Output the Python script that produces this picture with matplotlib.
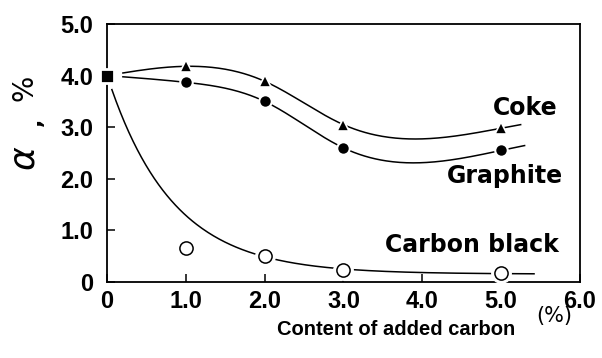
import numpy as np
import matplotlib
matplotlib.use("Agg")
import matplotlib.pyplot as plt

# alpha (%) vs. content of added carbon (%)
base_x = [0.0]
base_y = [4.0]

carbon_x = [1.0, 2.0, 3.0, 5.0]
coke_y = [4.18, 3.89, 3.05, 2.98]
graphite_y = [3.87, 3.50, 2.60, 2.55]
black_y = [0.66, 0.50, 0.23, 0.18]

x_ticks = [0, 1, 2, 3, 4, 5, 6]
x_tick_labels = ["0", "1.0", "2.0", "3.0", "4.0", "5.0", "6.0"]
y_ticks = [0, 1, 2, 3, 4, 5]
y_tick_labels = ["0", "1.0", "2.0", "3.0", "4.0", "5.0"]

tick_font = dict(family=["Liberation Sans Narrow", "Liberation Sans"], weight="bold", size=17)
label_font = dict(family=["DejaVu Sans"], weight="bold", size=17)


def smooth_curve(y, x0, x1):
    # natural cubic spline through the base point and the measured points
    x = np.array(base_x + carbon_x)
    y = np.array(base_y + y)
    h = np.diff(x)
    m = len(x)
    A = np.zeros((m, m))
    r = np.zeros(m)
    A[0, 0] = A[-1, -1] = 1.0
    for i in range(1, m - 1):
        A[i, i - 1] = h[i - 1]
        A[i, i] = 2 * (h[i - 1] + h[i])
        A[i, i + 1] = h[i]
        r[i] = 3 * ((y[i + 1] - y[i]) / h[i] - (y[i] - y[i - 1]) / h[i - 1])
    c = np.linalg.solve(A, r)
    b = (y[1:] - y[:-1]) / h - h * (2 * c[:-1] + c[1:]) / 3
    d = (c[1:] - c[:-1]) / (3 * h)
    xx = np.linspace(x0, x1, 300)
    i = np.clip(np.searchsorted(x, xx) - 1, 0, m - 2)
    t = xx - x[i]
    return xx, y[i] + b[i] * t + c[i] * t ** 2 + d[i] * t ** 3


def decay_curve(y, x0, x1):
    # y = a*exp(-k x) + c, fitted through the base value and the 2-5 % points
    xs = np.array(base_x + carbon_x[1:])
    ys = np.array(base_y + y[1:])
    best = None
    for k in np.linspace(0.3, 3.0, 271):
        A = np.column_stack([np.exp(-k * xs), np.ones_like(xs)])
        coef = np.linalg.lstsq(A, ys, rcond=None)[0]
        err = np.sum((A @ coef - ys) ** 2)
        if best is None or err < best[0]:
            best = (err, k, coef)
    _, k, (a, c) = best
    xx = np.linspace(x0, x1, 300)
    return xx, a * np.exp(-k * xx) + c


fig = plt.figure(figsize=(6.02, 3.58), dpi=100)
ax = fig.add_axes([0.178, 0.212, 0.785, 0.721])

for xx, yy in [smooth_curve(coke_y, 0.2, 5.25),
               smooth_curve(graphite_y, 0.2, 5.3),
               decay_curve(black_y, 0.06, 5.42)]:
    ax.plot(xx, yy, color="black", lw=1.1, zorder=2)

# white halos break the lines around the markers
ax.plot(carbon_x, black_y, "o", ms=14, color="white", zorder=3)
ax.plot(carbon_x, black_y, "o", ms=9.5, mfc="white", mec="black", mew=1.1, zorder=4)
ax.plot(carbon_x, graphite_y, "o", ms=9, color="black", mec="white", mew=1.5, zorder=4)
ax.plot(carbon_x, coke_y, "^", ms=8.5, color="black", mec="white", mew=1.2, zorder=4)
ax.plot(base_x, base_y, "s", ms=9.5, color="black", mec="white", mew=2.0, zorder=5,
        clip_on=False)

ax.text(5.72, 3.24, "Coke", ha="right", va="baseline", **label_font)
ax.text(5.79, 1.92, "Graphite", ha="right", va="baseline", **label_font)
ax.text(5.74, 0.58, "Carbon black", ha="right", va="baseline", **label_font)

ax.set_xlim(0, 6)
ax.set_ylim(0, 5)
ax.set_xticks(x_ticks)
ax.set_xticklabels(x_tick_labels, **tick_font)
ax.set_yticks(y_ticks)
ax.set_yticklabels(y_tick_labels, **tick_font)
ax.tick_params(direction="in", length=6, width=1.1)
ax.tick_params(axis="x", pad=6)
ax.tick_params(axis="y", pad=10)
for s in ax.spines.values():
    s.set_linewidth(1.3)

fig.text(0.658, 0.064, "Content of added carbon", ha="center", va="baseline",
         family="Liberation Sans", weight="bold", size=14.5)
fig.text(0.92, 0.117, "(%)", ha="center", va="center", family="DejaVu Sans", size=15)

# y label pieces: alpha, comma, percent
fig.text(0.04, 1 - 158 / 358, r"$\alpha$", ha="center", va="center", rotation=90,
         family="DejaVu Sans", size=26)
fig.text(0.058, 1 - 122 / 358, ",", ha="center", va="center", rotation=90,
         family="DejaVu Sans", weight="bold", size=16)
fig.text(0.04, 1 - 88 / 358, "%", ha="center", va="center", rotation=90,
         family="DejaVu Sans", size=20)

fig.savefig("out.png", dpi=100)
